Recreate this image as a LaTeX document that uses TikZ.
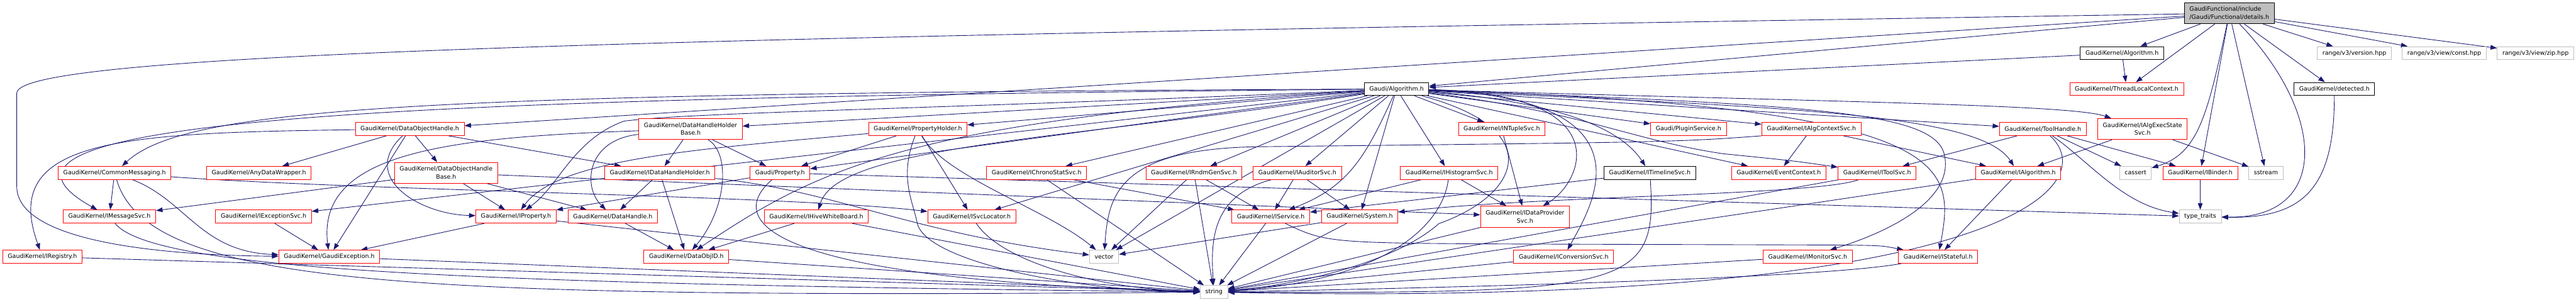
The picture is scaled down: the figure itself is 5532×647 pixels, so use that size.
\documentclass[tikz,border=0pt]{standalone}
\usepackage{fontspec}
\setmainfont{DejaVu Sans}
\usepackage{xcolor}
\usepackage{tikz}
\usetikzlibrary{arrows.meta, backgrounds}

\definecolor{edgeblue}{HTML}{191970}
\definecolor{sysgray}{HTML}{BFBFBF}

\begin{document}
\begin{tikzpicture}[x=1pt, y=1pt]
    \tikzstyle{hdrbox} = [rectangle, draw=red, fill=white, line width=1.2pt,
                          inner xsep=11pt, inner ysep=0pt, minimum height=28pt,
                          align=center, font=\fontsize{12.8}{17}\selectfont]
    \tikzstyle{sysbox} = [hdrbox, draw=sysgray]
    \tikzstyle{docbox} = [hdrbox, draw=black]
    \tikzstyle{twobox} = [hdrbox, minimum height=45pt]
    \tikzstyle{rootbox} = [hdrbox, draw=black, fill=sysgray, align=left, minimum height=45pt]
    \tikzstyle{arr} = [-{Triangle[length=14pt, width=10pt]}, line width=1.2pt, color=edgeblue]

    \useasboundingbox (0,0) rectangle (5532,-647);

    \node (root)       [rootbox] at (4787.5,-28.5) {GaudiFunctional/include\\/Gaudi/Functional/details.h};

    \node (gkalg)      [docbox] at (4557,-114) {GaudiKernel/Algorithm.h};
    \node (rver)       [sysbox] at (5056,-114) {range/v3/version.hpp};
    \node (rconst)     [sysbox] at (5249,-114) {range/v3/view/const.hpp};
    \node (rzip)       [sysbox] at (5445,-114) {range/v3/view/zip.hpp};

    \node (galg)       [docbox] at (2999,-191) {Gaudi/Algorithm.h};
    \node (tlc)        [hdrbox] at (4567,-191) {GaudiKernel/ThreadLocalContext.h};
    \node (detected)   [docbox] at (5013,-191) {GaudiKernel/detected.h};

    \node (doh)        [hdrbox] at (880,-277)  {GaudiKernel/DataObjectHandle.h};
    \node (dhhb)       [twobox] at (1483,-277) {GaudiKernel/DataHandleHolder\\Base.h};
    \node (propholder) [hdrbox] at (1971,-277) {GaudiKernel/PropertyHolder.h};
    \node (ntuple)     [hdrbox] at (3225,-277) {GaudiKernel/INTupleSvc.h};
    \node (plugin)     [hdrbox] at (3626,-277) {Gaudi/PluginService.h};
    \node (algctx)     [hdrbox] at (3890,-277) {GaudiKernel/IAlgContextSvc.h};
    \node (toolhandle) [hdrbox] at (4387,-277) {GaudiKernel/ToolHandle.h};
    \node (execstate)  [twobox] at (4601,-277) {GaudiKernel/IAlgExecState\\Svc.h};

    \node (commsg)     [hdrbox] at (246,-371)  {GaudiKernel/CommonMessaging.h};
    \node (anydata)    [hdrbox] at (556,-371)  {GaudiKernel/AnyDataWrapper.h};
    \node (dohb)       [twobox] at (958,-371)  {GaudiKernel/DataObjectHandle\\Base.h};
    \node (idhh)       [hdrbox] at (1417,-371) {GaudiKernel/IDataHandleHolder.h};
    \node (gprop)      [hdrbox] at (1675,-371) {Gaudi/Property.h};
    \node (chrono)     [hdrbox] at (2226,-371) {GaudiKernel/IChronoStatSvc.h};
    \node (rndm)       [hdrbox] at (2564,-371) {GaudiKernel/IRndmGenSvc.h};
    \node (auditor)    [hdrbox] at (2786,-371) {GaudiKernel/IAuditorSvc.h};
    \node (histo)      [hdrbox] at (3112,-371) {GaudiKernel/IHistogramSvc.h};
    \node (timeline)   [docbox] at (3543,-371) {GaudiKernel/ITimelineSvc.h};
    \node (evtctx)     [hdrbox] at (3820,-371) {GaudiKernel/EventContext.h};
    \node (toolsvc)    [hdrbox] at (4031,-371) {GaudiKernel/IToolSvc.h};
    \node (ialg)       [hdrbox] at (4334,-371) {GaudiKernel/IAlgorithm.h};
    \node (cassert)    [sysbox] at (4586,-371) {cassert};
    \node (ibinder)    [hdrbox] at (4725,-371) {GaudiKernel/IBinder.h};
    \node (sstream)    [sysbox] at (4866,-371) {sstream};

    \node (msgsvc)     [hdrbox] at (235,-465)  {GaudiKernel/IMessageSvc.h};
    \node (excsvc)     [hdrbox] at (566,-465)  {GaudiKernel/IExceptionSvc.h};
    \node (iprop)      [hdrbox] at (1108,-465) {GaudiKernel/IProperty.h};
    \node (dhandle)    [hdrbox] at (1316,-465) {GaudiKernel/DataHandle.h};
    \node (hive)       [hdrbox] at (1753,-465) {GaudiKernel/IHiveWhiteBoard.h};
    \node (svcloc)     [hdrbox] at (2087,-465) {GaudiKernel/ISvcLocator.h};
    \node (iservice)   [hdrbox] at (2729,-465) {GaudiKernel/IService.h};
    \node (system)     [hdrbox] at (2920,-465) {GaudiKernel/System.h};
    \node (dpsvc)      [twobox] at (3275,-465) {GaudiKernel/IDataProvider\\Svc.h};
    \node (typetraits) [sysbox] at (4725,-465) {type\_traits};

    \node (registry)   [hdrbox] at (91,-551)   {GaudiKernel/IRegistry.h};
    \node (gexc)       [hdrbox] at (707,-551)  {GaudiKernel/GaudiException.h};
    \node (objid)      [hdrbox] at (1474,-551) {GaudiKernel/DataObjID.h};
    \node (vector)     [sysbox] at (2371,-551) {vector};
    \node (convsvc)    [hdrbox] at (3358,-551) {GaudiKernel/IConversionSvc.h};
    \node (monsvc)     [hdrbox] at (3882,-551) {GaudiKernel/IMonitorSvc.h};
    \node (stateful)   [hdrbox] at (4162,-551) {GaudiKernel/IStateful.h};

    \node (string)     [sysbox] at (2607,-627) {string};

    \begin{scope}[on background layer]
    \fill[white] (0,0) rectangle (5532,-647);

    \draw[arr] (root) -- (gkalg);
    \draw[arr] (root) -- (galg);
    \draw[arr] (root) -- (tlc);
    \draw[arr] (root) -- (rver);
    \draw[arr] (root) -- (rconst);
    \draw[arr] (root) -- (rzip);
    \draw[arr] (root) -- (detected);
    \draw[arr] (root) -- (doh);
    \draw[arr] (root) .. controls (4740,-250) and (4720,-330) .. (cassert);
    \draw[arr] (root) -- (ibinder);
    \draw[arr] (root) -- (sstream);
    \draw[arr] (root) .. controls (5000,-250) and (5000,-470) .. (typetraits);
    \draw[arr] (root) .. controls (1500,-80) and (36,-110) .. (36,-200) -- (36,-400)
               .. controls (36,-520) and (350,-548) .. (gexc);
    \draw[arr] (gkalg) -- (galg);
    \draw[arr] (gkalg) -- (tlc);
    \draw[arr] (detected) .. controls (5013,-400) and (4950,-470) .. (typetraits);

    \draw[arr] (galg) .. controls (900,-200) and (400,-230) .. (commsg);
    \draw[arr] (galg) .. controls (900,-210) and (-150,-250) .. (msgsvc);
    \draw[arr] (galg) -- (excsvc);
    \draw[arr] (galg) -- (dhhb);
    \draw[arr] (galg) -- (propholder);
    \draw[arr] (galg) -- (gprop);
    \draw[arr] (galg) .. controls (2000,-235) and (1500,-240) .. (1340,-260)
               .. controls (1230,-300) and (1200,-400) .. (iprop);
    \draw[arr] (galg) .. controls (2300,-300) and (1800,-310) .. (hive);
    \draw[arr] (galg) .. controls (1950,-260) and (1760,-360) .. (objid);
    \draw[arr] (galg) -- (svcloc);
    \draw[arr] (galg) -- (chrono);
    \draw[arr] (galg) -- (rndm);
    \draw[arr] (galg) -- (vector);
    \draw[arr] (galg) -- (auditor);
    \draw[arr] (galg) .. controls (2935,-330) and (2900,-400) .. (iservice);
    \draw[arr] (galg) -- (system);
    \draw[arr] (galg) -- (histo);
    \draw[arr] (galg) -- (ntuple);
    \draw[arr] (galg) .. controls (3480,-200) and (3400,-390) .. (dpsvc);
    \draw[arr] (galg) .. controls (3560,-210) and (3420,-440) .. (convsvc);
    \draw[arr] (galg) .. controls (3330,-280) and (3260,-420) .. (3090,-480)
               .. controls (3000,-560) and (2800,-610) .. (string);
    \draw[arr] (galg) -- (plugin);
    \draw[arr] (galg) -- (algctx);
    \draw[arr] (galg) .. controls (3300,-215) and (3470,-260) .. (timeline);
    \draw[arr] (galg) -- (evtctx);
    \draw[arr] (galg) .. controls (3400,-240) and (3500,-300) .. (3700,-330)
               .. controls (3850,-345) .. (toolsvc);
    \draw[arr] (galg) .. controls (3900,-225) and (4150,-240) .. (4175,-330)
               .. controls (4200,-430) and (4050,-500) .. (monsvc);
    \draw[arr] (galg) -- (toolhandle);
    \draw[arr] (galg) .. controls (4000,-220) and (4450,-225) .. (execstate);
    \draw[arr] (galg) .. controls (3800,-230) and (4250,-240) .. (ialg);
    \draw[arr] (galg) .. controls (4200,-230) and (4200,-350) .. (stateful);

    \draw[arr] (doh) -- (anydata);
    \draw[arr] (doh) .. controls (250,-285) and (0,-300) .. (registry);
    \draw[arr] (doh) -- (gexc);
    \draw[arr] (doh) .. controls (770,-380) and (900,-460) .. (iprop);
    \draw[arr] (doh) -- (dohb);
    \draw[arr] (doh) -- (idhh);
    \draw[arr] (dohb) -- (msgsvc);
    \draw[arr] (dohb) -- (iprop);
    \draw[arr] (dohb) -- (dhandle);
    \draw[arr] (dohb) -- (dpsvc);

    \draw[arr] (dhhb) -- (idhh);
    \draw[arr] (dhhb) -- (gprop);
    \draw[arr] (dhhb) .. controls (1570,-330) and (1560,-450) .. (objid);
    \draw[arr] (dhhb) .. controls (1260,-300) and (1250,-400) .. (dhandle);
    \draw[arr] (dhhb) .. controls (950,-295) and (680,-330) .. (gexc);
    \draw[arr] (propholder) -- (gprop);
    \draw[arr] (propholder) .. controls (1500,-320) and (1200,-340) .. (iprop);
    \draw[arr] (propholder) -- (svcloc);
    \draw[arr] (propholder) .. controls (2030,-380) and (2250,-450) .. (vector);
    \draw[arr] (propholder) .. controls (1930,-380) and (1960,-430) .. (1970,-480)
               .. controls (1990,-560) and (2300,-625) .. (string);
    \draw[arr] (gprop) -- (iprop);
    \draw[arr] (gprop) .. controls (1560,-470) and (1620,-600) .. (string);
    \draw[arr] (gprop) -- (typetraits);
    \draw[arr] (idhh) -- (dhandle);
    \draw[arr] (idhh) -- (objid);
    \draw[arr] (idhh) .. controls (1800,-410) and (1950,-500) .. (vector);
    \draw[arr] (dhandle) -- (objid);
    \draw[arr] (hive) -- (objid);
    \draw[arr] (hive) -- (string);
    \draw[arr] (objid) -- (string);
    \draw[arr] (svcloc) .. controls (2150,-560) and (2350,-620) .. (string);

    \draw[arr] (commsg) -- (msgsvc);
    \draw[arr] (commsg) .. controls (400,-430) and (430,-540) .. (gexc);
    \draw[arr] (commsg) .. controls (320,-620) and (900,-640) .. (string);
    \draw[arr] (commsg) .. controls (800,-410) and (1700,-420) .. (svcloc);
    \draw[arr] (msgsvc) .. controls (330,-580) and (1000,-610) .. (string);
    \draw[arr] (registry) -- (string);
    \draw[arr] (gexc) -- (string);
    \draw[arr] (excsvc) -- (gexc);
    \draw[arr] (iprop) -- (gexc);
    \draw[arr] (iprop) -- (string);

    \draw[arr] (chrono) -- (iservice);
    \draw[arr] (chrono) -- (string);
    \draw[arr] (rndm) -- (vector);
    \draw[arr] (rndm) -- (string);
    \draw[arr] (rndm) -- (iservice);
    \draw[arr] (auditor) -- (iservice);
    \draw[arr] (auditor) -- (system);
    \draw[arr] (auditor) .. controls (2600,-420) and (2600,-520) .. (string);
    \draw[arr] (iservice) .. controls (2850,-522) .. (3300,-524) -- (3950,-526)
               .. controls (4040,-527) .. (stateful);
    \draw[arr] (iservice) -- (string);
    \draw[arr] (system) -- (string);
    \draw[arr] (system) -- (vector);
    \draw[arr] (histo) -- (iservice);
    \draw[arr] (histo) -- (dpsvc);
    \draw[arr] (histo) .. controls (3100,-470) and (3000,-600) .. (string);
    \draw[arr] (ntuple) -- (dpsvc);
    \draw[arr] (dpsvc) -- (string);
    \draw[arr] (convsvc) -- (string);

    \draw[arr] (timeline) -- (iservice);
    \draw[arr] (timeline) .. controls (3560,-620) and (3500,-630) .. (string);
    \draw[arr] (algctx) -- (evtctx);
    \draw[arr] (algctx) -- (ialg);
    \draw[arr] (algctx.south west) .. controls (3600,-305) .. (2700,-315)
               .. controls (2400,-320) and (2380,-420) .. (vector);
    \draw[arr] (toolsvc) .. controls (3900,-420) and (3300,-420) .. (system);
    \draw[arr] (toolsvc) -- (string);
    \draw[arr] (monsvc) -- (string);
    \draw[arr] (stateful) .. controls (3900,-600) and (3000,-620) .. (string);
    \draw[arr] (ialg) -- (stateful);
    \draw[arr] (ialg) -- (string);
    \draw[arr] (execstate) -- (ialg);
    \draw[arr] (execstate) -- (sstream);
    \draw[arr] (toolhandle) -- (toolsvc);
    \draw[arr] (toolhandle) -- (cassert);
    \draw[arr] (toolhandle) -- (ibinder);
    \draw[arr] (toolhandle) .. controls (4490,-350) and (4560,-440) .. (typetraits);
    \draw[arr] (toolhandle) .. controls (4520,-400) and (4300,-660) .. (string);
    \draw[arr] (ibinder) -- (typetraits);
    \end{scope}
\end{tikzpicture}
\end{document}
